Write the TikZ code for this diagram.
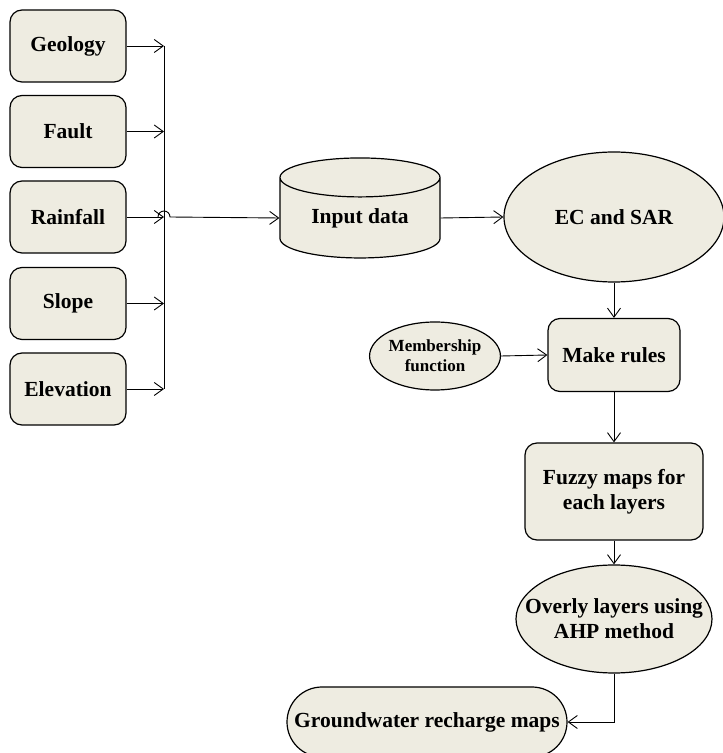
\documentclass[tikz,border=0pt]{standalone}
\usepackage{fontspec}
\setmainfont{Liberation Serif}
\usetikzlibrary{arrows.meta,shapes.geometric,positioning}
\definecolor{boxfill}{HTML}{EEECE1}

\begin{document}
\begin{tikzpicture}[x=1pt,y=1pt,
    every node/.style={font=\bfseries\fontsize{21.5}{25}\selectfont, align=center},
    box/.style={draw, fill=boxfill, line width=1.2pt, rounded corners=12pt, inner sep=0pt},
    oval/.style={draw, fill=boxfill, line width=1.2pt, ellipse, inner sep=0pt},
    link/.style={line width=0.9pt, -{Straight Barb[length=9pt,width=13pt]}}
  ]
  \useasboundingbox (0,0) rectangle (723,753);

  % input layers
  \node[box, minimum width=116pt, minimum height=72pt] (geology)   at (68,707)   {Geology};
  \node[box, minimum width=116pt, minimum height=72pt] (fault)     at (68,621.5) {Fault};
  \node[box, minimum width=116pt, minimum height=72pt] (rainfall)  at (68,536)   {Rainfall};
  \node[box, minimum width=116pt, minimum height=72pt] (slope)     at (68,449.5) {Slope};
  \node[box, minimum width=116pt, minimum height=72pt] (elevation) at (68,364)   {Elevation};
  \coordinate (bus) at (164,536);

  % processing chain
  \node[cylinder, shape border rotate=90, shape aspect=0.4, draw, fill=boxfill,
        line width=1.2pt, minimum width=160pt, minimum height=100pt, inner sep=0pt]
        (input) at (360,535) {Input data};
  \node[oval, minimum width=220pt, minimum height=130pt] (ecsar) at (614,536) {EC and SAR};
  \node[box, minimum width=132pt, minimum height=73pt] (rules) at (614,398) {Make rules};
  \node[oval, minimum width=124pt, minimum height=68pt,
        font=\bfseries\fontsize{17}{20}\selectfont] (member) at (435,397) {Membership\\function};
  \node[box, minimum width=178pt, minimum height=97pt] (fuzzy) at (614,261.5) {Fuzzy maps for\\each layers};
  \node[oval, inner xsep=-20pt, minimum width=196pt, minimum height=108pt] (overlay) at (614,134) {Overly layers using\\AHP method};
  \node[box, rounded corners=35pt, minimum width=280pt, minimum height=70pt] (recharge) at (427,31) {Groundwater recharge maps};

  % connectors
  \foreach \n in {geology,fault,rainfall,slope,elevation}
    \draw[link] (\n.east) -- (bus |- \n.east);
  \draw[line width=0.9pt] (bus |- geology.east) -- (bus |- elevation.east);
  \draw[link] ([xshift=-6pt]bus) arc (180:0:6pt) -- (input.west);
  \draw[link] (input.east) -- (ecsar.west);
  \draw[link] (ecsar.south) -- (rules.north);
  \draw[link] (member.east) -- (rules.west);
  \draw[link] (rules.south) -- (fuzzy.north);
  \draw[link] (fuzzy.south) -- (overlay.north);
  \draw[link] (overlay.south) |- (recharge.east);
\end{tikzpicture}
\end{document}
